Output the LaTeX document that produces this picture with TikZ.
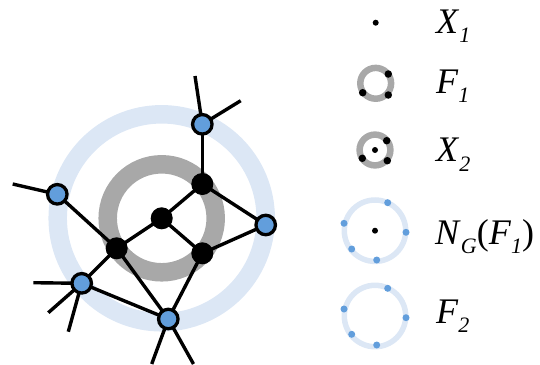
\documentclass[tikz,border=0pt]{standalone}
\usepackage{fontspec}
\setmainfont{Liberation Serif}
\definecolor{ringblue}{RGB}{220,231,245}
\definecolor{nodeblue}{RGB}{98,158,220}
\definecolor{ringgray}{RGB}{168,168,168}
\newcommand\lbl[2]{\textit{#1}\raisebox{-0.26em}{\fontsize{22}{22}\selectfont\textit{#2}}}
\tikzset{
  blk/.style={circle,fill=black,draw=black,line width=1pt,inner sep=0pt,minimum size=21pt},
  bln/.style={circle,fill=nodeblue,draw=black,line width=3.3pt,inner sep=0pt,minimum size=19.5pt},
  edge/.style={line width=3.4pt},
  ldot/.style={circle,fill=black,inner sep=0pt,minimum size=7.5pt},
  bdot/.style={circle,fill=nodeblue,inner sep=0pt,minimum size=7pt},
  txt/.style={anchor=base west,inner sep=0pt,font=\fontsize{36}{36}\selectfont},
}
\begin{document}
\begin{tikzpicture}[x=1pt,y=-1pt]
\useasboundingbox (0,0) rectangle (540,364);
% rings
\draw[ringblue,line width=18.5pt] (161.7,218.3) circle[radius=104];
\draw[ringgray,line width=18.5pt] (161.7,218.3) circle[radius=54];
% node positions
\coordinate (c) at (161.7,218.3);
\coordinate (a) at (202.3,184);
\coordinate (b) at (202.3,253.3);
\coordinate (l) at (116.7,248.3);
\coordinate (t) at (202.3,124.3);
\coordinate (r) at (265.7,225);
\coordinate (w) at (57.3,194.3);
\coordinate (ll) at (81.7,283.3);
\coordinate (bt) at (168.3,319);
\coordinate (t1) at (195,76);
\coordinate (t2) at (240.7,100.7);
\coordinate (w1) at (12.7,184);
\coordinate (ll1) at (33.3,282.7);
\coordinate (ll2) at (48.3,312.7);
\coordinate (ll3) at (68.3,331.7);
\coordinate (bt1) at (151.7,364);
\coordinate (bt2) at (193.5,364);
% edges
\foreach \u/\v in {c/a,c/b,c/l,a/t,a/r,b/r,b/bt,l/w,l/ll,l/bt,ll/bt,t/t1,t/t2,w/w1,ll/ll1,ll/ll2,ll/ll3,bt/bt1,bt/bt2}
  \draw[edge] (\u) -- (\v);
% nodes
\node[blk] (nc) at (c) {};
\node[blk] (na) at (a) {};
\node[blk] (nb) at (b) {};
\node[blk] (nl) at (l) {};
\node[bln] (nt) at (t) {};
\node[bln] (nr) at (r) {};
\node[bln] (nw) at (w) {};
\node[bln] (nll) at (ll) {};
\node[bln] (nbt) at (bt) {};
% legend
\node[ldot,minimum size=6pt] (x1d) at (375.7,22.7) {};
\node[txt] (x1t) at (436,33.3) {\lbl{X}{1}};
\draw[ringgray,line width=6.5pt] (375.7,83.3) circle[radius=15.4];
\node[ldot] (f1a) at (388.3,74) {};
\node[ldot] (f1b) at (362.7,92.7) {};
\node[ldot] (f1c) at (388.3,95) {};
\node[txt] (f1t) at (436,93.3) {\lbl{F}{1}};
\draw[ringgray,line width=6.5pt] (375,150) circle[radius=15.4];
\node[ldot] (x2a) at (386.7,140.7) {};
\node[ldot] (x2b) at (362.3,158.3) {};
\node[ldot] (x2c) at (387.3,160.7) {};
\node[ldot,minimum size=6pt] (x2d) at (375,150) {};
\node[txt] (x2t) at (436,161.7) {\lbl{X}{2}};
\draw[ringblue,line width=5.5pt] (375,230.7) circle[radius=30.7];
\node[bdot] (n1) at (387.7,202.7) {};
\node[bdot] (n2) at (344,223.3) {};
\node[bdot] (n3) at (406,232.3) {};
\node[bdot] (n4) at (351.7,249) {};
\node[bdot] (n5) at (376.7,260) {};
\node[ldot,minimum size=6pt] (n6) at (375,230.7) {};
\node[txt] (ngt) at (435,244.3) {\lbl{N}{G}(\lbl{F}{1})};
\draw[ringblue,line width=5.5pt] (375,316) circle[radius=30.7];
\node[bdot] (m1) at (387.7,288.3) {};
\node[bdot] (m2) at (344,309) {};
\node[bdot] (m3) at (406,317.7) {};
\node[bdot] (m4) at (351.7,334.3) {};
\node[bdot] (m5) at (376.7,345) {};
\node[txt] (f2t) at (436,323.3) {\lbl{F}{2}};
\end{tikzpicture}
\end{document}
